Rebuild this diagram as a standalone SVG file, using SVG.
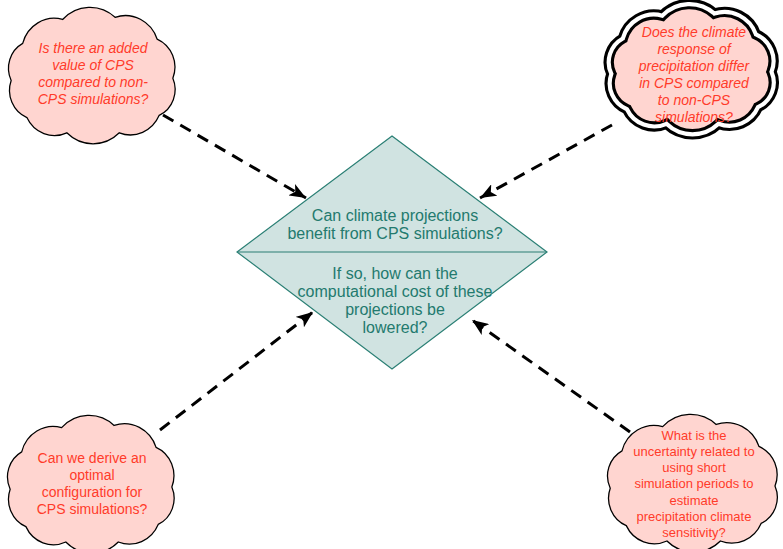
<svg xmlns="http://www.w3.org/2000/svg" width="783" height="549" viewBox="0 0 783 549">
<defs>
<style>
.cloud{fill:#ffd5d0;stroke:#000;stroke-width:1.2}
.q{font-family:"Liberation Sans",Arial,sans-serif;font-size:14px;fill:#ff3b2a;text-anchor:middle}
.s{font-size:13px}
.it{font-style:italic}
.dt{font-family:"Liberation Sans",Arial,sans-serif;font-size:16px;fill:#237a6e;text-anchor:middle}
.conn{stroke:#000;stroke-width:3;stroke-dasharray:12,8;fill:none}
</style>
<path id="cl" d="M20,38 A31,31 0 0 1 58,16 A36,36 0 0 1 108,14 A32,32 0 0 1 148,34 A28,28 0 0 1 163,70 A26,26 0 0 1 150,104 A30,30 0 0 1 112,120 A36,36 0 0 1 62,120 A29,29 0 0 1 24,106 A27,27 0 0 1 9,72 A26,26 0 0 1 20,38 Z"/>
<marker id="ah" viewBox="0 0 10 8" refX="10" refY="4" markerWidth="5.5" markerHeight="4.4" orient="auto" markerUnits="strokeWidth">
<path d="M0,0 L10,4 L0,8 L2.5,4 Z" fill="#000"/>
</marker>
</defs>
<rect width="783" height="549" fill="#fff"/>
<g id="connectors">
<line class="conn" x1="163" y1="115" x2="306" y2="198" marker-end="url(#ah)"/>
<line class="conn" x1="612" y1="125" x2="480" y2="198" marker-end="url(#ah)"/>
<line class="conn" x1="160" y1="430" x2="313" y2="312" marker-end="url(#ah)"/>
<line class="conn" x1="630" y1="432" x2="472" y2="320" marker-end="url(#ah)"/>
</g>
<g id="center">
<polygon points="392,136 547,252 392,369 237,252" fill="#d0e3e1" stroke="#2a7f74" stroke-width="1.2"/>
<line x1="237" y1="252" x2="547" y2="252" stroke="#2a7f74" stroke-width="1.2"/>
<text class="dt" x="395" y="221">Can climate projections</text>
<text class="dt" x="395" y="239">benefit from CPS simulations?</text>
<text class="dt" x="395" y="279">If so, how can the</text>
<text class="dt" x="395" y="297">computational cost of these</text>
<text class="dt" x="395" y="315">projections be</text>
<text class="dt" x="395" y="333">lowered?</text>
</g>
<g id="q1">
<use href="#cl" class="cloud" transform="translate(1.7,2) scale(1.05,1.09)"/>
<text class="q it" x="93" y="53">Is there an added</text>
<text class="q it" x="93" y="70">value of CPS</text>
<text class="q it" x="93" y="87">compared to non-</text>
<text class="q it" x="93" y="104">CPS simulations?</text>
</g>
<g id="q2">
<use href="#cl" fill="#ffd5d0" stroke="#000" stroke-width="10" transform="translate(602,-1) scale(1.04,1.04)"/>
<use href="#cl" fill="none" stroke="#fff" stroke-width="4" transform="translate(602,-1) scale(1.04,1.04)"/>
<text class="q it" x="694" y="37">Does the climate</text>
<text class="q it" x="694" y="54">response of</text>
<text class="q it" x="694" y="71">precipitation differ</text>
<text class="q it" x="694" y="88">in CPS compared</text>
<text class="q it" x="694" y="105">to non-CPS</text>
<text class="q it" x="694" y="122">simulations?</text>
</g>
<g id="q3">
<use href="#cl" class="cloud" transform="translate(0.7,410) scale(1.05,1.1)"/>
<text class="q" x="92" y="463">Can we derive an</text>
<text class="q" x="92" y="480">optimal</text>
<text class="q" x="92" y="497">configuration for</text>
<text class="q" x="92" y="514">CPS simulations?</text>
</g>
<g id="q4">
<use href="#cl" class="cloud" transform="translate(600.6,409) scale(1.07,1.1)"/>
<text class="q s" x="694" y="440">What is the</text>
<text class="q s" x="694" y="456">uncertainty related to</text>
<text class="q s" x="694" y="472">using short</text>
<text class="q s" x="694" y="488">simulation periods to</text>
<text class="q s" x="694" y="505">estimate</text>
<text class="q s" x="694" y="521">precipitation climate</text>
<text class="q s" x="694" y="537">sensitivity?</text>
</g>
</svg>
